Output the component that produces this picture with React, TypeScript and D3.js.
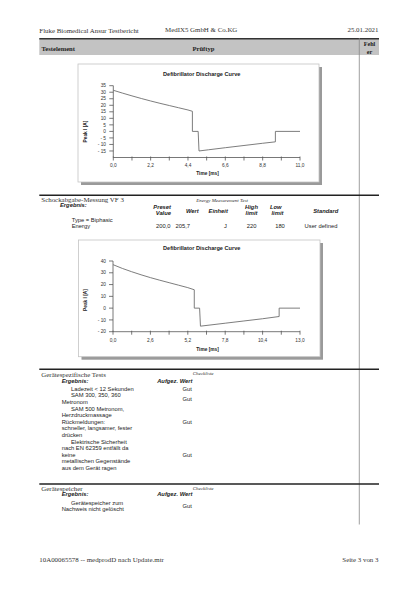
import React from "react";
import * as d3 from "d3";

// ---------- Data ----------
const headerLeft = "Fluke Biomedical Ansur Testbericht";
const headerMid = "MedIX5 GmbH & Co.KG";
const headerDate = "25.01.2021";
const footerLeft = "10A00065578 -- medprodD nach Update.mtr";
const footerRight = "Seite 3 von 3";

// Chart 1 (first row)
const c1Time = [0, 0.55, 1.1, 1.65, 2.2, 2.75, 3.3, 3.85, 4.4, 4.66, 4.66, 5.0, 5.05, 5.6, 6.6, 7.7, 8.8, 9.55, 9.55, 11.0];
const c1Current = [31.5, 29.3, 27.2, 25.2, 23.3, 21.5, 19.8, 18.1, 16.4, 15.4, 0, 0, -15, -14.1, -12.5, -10.8, -9.1, -8.0, 0, 0];
const c1XTicks = [0, 2.2, 4.4, 6.6, 8.8, 11.0];
const c1XMinorStep = 1.1;
const c1YTicks = [35, 30, 25, 20, 15, 10, 5, 0, -5, -10, -15];
const c1YDomain = [-20, 35];
const c1XDomain = [0, 11];

// Chart 2 (Schockabgabe-Messung VF 3)
const c2Time = [0, 0.65, 1.3, 1.95, 2.6, 3.25, 3.9, 4.55, 5.2, 5.65, 5.65, 6.02, 6.08, 7.8, 9.1, 10.4, 11.55, 11.55, 13.0];
const c2Current = [36.9, 33.7, 30.9, 28.3, 25.9, 23.7, 21.6, 19.5, 17.4, 15.6, 0, 0, -15.3, -12.8, -10.9, -9.0, -7.1, 0, 0];
const c2XTicks = [0, 2.6, 5.2, 7.8, 10.4, 13.0];
const c2XMinorStep = 1.3;
const c2YTicks = [40, 30, 20, 10, 0, -10, -20];
const c2YDomain = [-20, 40];
const c2XDomain = [0, 13];

const energyCols = ["Preset|Value", "Wert", "Einheit", "High|limit", "Low|limit", "Standard"];
const energyRow = ["200,0", "205,7", "J", "220", "180", "User defined"];

const deviceItems = [
  { lines: ["Ladezeit < 12 Sekunden"], value: "Gut" },
  { lines: ["SAM 300, 350, 360", "Metronom"], value: "Gut" },
  { lines: ["SAM 500 Metronom,", "Herzdruckmassage", "Rückmeldungen:", "schneller, langsamer, fester", "drücken"], value: "Gut" },
  { lines: ["Elektrische Sicherheit", "nach EN 62359 entfällt da", "keine", "metallischen Gegenstände", "aus dem Gerät ragen"], value: "Gut" },
];
const memoryItems = [{ lines: ["Gerätespeicher zum", "Nachweis nicht gelöscht"], value: "Gut" }];

// ---------- Styles ----------
const SERIF = "'Liberation Serif', 'Times New Roman', serif";
const SANS = "'Liberation Sans', Arial, sans-serif";

type TP = {
  x: number; y: number; s: string; fs?: number; f?: string; w?: any; it?: boolean;
  a?: "start" | "middle" | "end"; c?: string; rot?: number;
};
const T = ({ x, y, s, fs = 5.8, f = SANS, w = "normal", it = false, a = "start", c = "#222", rot }: TP) => (
  <text
    x={x}
    y={y + fs * 0.35}
    fontSize={fs}
    fontFamily={f}
    fontWeight={w}
    fontStyle={it ? "italic" : "normal"}
    textAnchor={a}
    fill={c}
    transform={rot !== undefined ? `rotate(${rot},${x},${y})` : undefined}
  >
    {s}
  </text>
);

const fmt = (v: number) => v.toFixed(1).replace(".", ",");
const fmtY = (v: number) => (v < 0 ? `- ${Math.abs(v)}` : `${v}`);

type ChartProps = {
  box: [number, number, number, number];
  plot: { x0: number; x1: number; yTop: number; yBot: number };
  xDomain: number[]; yDomain: number[];
  xTicks: number[]; minorStep: number; yTicks: number[];
  time: number[]; current: number[];
  titleY: number; tickLabelY: number; xLabelY: number; yLabelCenter: number;
};

const Chart = (p: ChartProps) => {
  const [bx, by, bw, bh] = p.box;
  const xs = d3.scaleLinear().domain(p.xDomain).range([p.plot.x0, p.plot.x1]);
  const ys = d3.scaleLinear().domain(p.yDomain).range([p.plot.yBot, p.plot.yTop]);
  const line = d3
    .line<number>()
    .x((_, i) => xs(p.time[i]))
    .y((d) => ys(d));
  const minor = d3.range(p.xDomain[0], p.xDomain[1] + 1e-6, p.minorStep);
  const axisC = "#555";
  const yb = ys(p.yDomain[0]);
  return (
    <g>
      <rect x={bx + 3} y={by + 3} width={bw} height={bh} fill="#9a9a9a" />
      <rect x={bx} y={by} width={bw} height={bh} fill="#fff" stroke="#c4c4c4" strokeWidth={0.8} />
      <T x={201.7} y={p.titleY} s="Defibrillator Discharge Curve" fs={5.6} w="bold" a="middle" c="#222" />
      <line x1={xs(p.xDomain[0])} x2={xs(p.xDomain[1])} y1={yb} y2={yb} stroke={axisC} strokeWidth={0.8} />
      <line x1={xs(p.xDomain[0])} x2={xs(p.xDomain[0])} y1={yb} y2={ys(p.yDomain[1])} stroke={axisC} strokeWidth={0.8} />
      {minor.map((t, i) => (
        <line key={"mx" + i} x1={xs(t)} x2={xs(t)} y1={yb - 1} y2={yb + 3} stroke={axisC} strokeWidth={0.8} />
      ))}
      {p.xTicks.map((t, i) => (
        <T key={"xl" + i} x={xs(t)} y={p.tickLabelY} s={fmt(t)} fs={4.8} a="middle" c="#333" />
      ))}
      {p.yTicks.map((t, i) => (
        <g key={"y" + i}>
          <line x1={xs(p.xDomain[0]) - 4} x2={xs(p.xDomain[0])} y1={ys(t)} y2={ys(t)} stroke={axisC} strokeWidth={0.8} />
          <T x={106} y={ys(t)} s={fmtY(t)} fs={4.8} a="end" c="#333" />
        </g>
      ))}
      <T x={207.5} y={p.xLabelY} s="Time [ms]" fs={4.8} w="bold" a="middle" c="#222" />
      <T x={85.5} y={p.yLabelCenter} s="Peak I [A]" fs={4.8} w="bold" a="middle" c="#222" rot={-90} />
      <path d={line(p.current) || ""} fill="none" stroke="#6e6e6e" strokeWidth={0.9} />
    </g>
  );
};

const Items = ({ items, startY, step }: { items: { lines: string[]; value: string }[]; startY: number; step: number }) => {
  let k = 0;
  const out: any[] = [];
  items.forEach((it, i) => {
    const first = k;
    it.lines.forEach((ln, j) => {
      out.push(<T key={`l${i}-${j}`} x={j === 0 ? 71 : 61.7} y={startY + k * step} s={ln} />);
      k++;
    });
    const mid = startY + ((first + k - 1) / 2) * step;
    out.push(<T key={`v${i}`} x={191.8} y={mid} s={it.value} a="end" />);
  });
  return <g>{out}</g>;
};

export default function App() {
  const W = 416, H = 589;
  const L = 39.3, R = 379;
  const sepX = 359.3;
  return (
    <svg width={W} height={H} style={{ position: "absolute", left: 0, top: 0, display: "block" }}>
      <rect x={0} y={0} width={W} height={H} fill="#fff" />
      {/* page header */}
      <T x={39.3} y={30.3} s={headerLeft} fs={6.9} f={SERIF} c="#333" />
      <T x={165} y={29.8} s={headerMid} fs={6.9} f={SERIF} c="#333" />
      <T x={378.5} y={29.8} s={headerDate} fs={6.9} f={SERIF} a="end" c="#333" />

      {/* table header */}
      <rect x={L} y={38.8} width={R - L} height={16.2} fill="#c3c3c3" />
      <line x1={L} x2={R} y1={38.8} y2={38.8} stroke="#333" strokeWidth={1.5} />
      <T x={41.5} y={48.2} s="Testelement" fs={6.6} f={SERIF} w="bold" c="#222" />
      <T x={203.5} y={48.2} s="Prüftyp" fs={6.6} f={SERIF} w="bold" a="middle" c="#222" />
      <T x={369.5} y={44.2} s="Fehl" fs={6.2} f={SERIF} w="bold" a="middle" c="#222" />
      <T x={369.5} y={51.4} s="er" fs={6.2} f={SERIF} w="bold" a="middle" c="#222" />
      <line x1={sepX} x2={sepX} y1={38} y2={524.5} stroke="#888" strokeWidth={0.8} />

      {/* row 1 chart */}
      <Chart
        box={[78, 64, 241, 118]}
        plot={{ x0: 113.3, x1: 300, yTop: 85.7, yBot: 157.5 }}
        xDomain={c1XDomain} yDomain={c1YDomain}
        xTicks={c1XTicks} minorStep={c1XMinorStep} yTicks={c1YTicks}
        time={c1Time} current={c1Current}
        titleY={74} tickLabelY={165.8} xLabelY={173.8} yLabelCenter={131.5}
      />

      {/* row 2 */}
      <line x1={L} x2={R} y1={195.3} y2={195.3} stroke="#222" strokeWidth={1.4} />
      <T x={41.3} y={199.8} s="Schockabgabe-Messung VF 3" fs={6.9} f={SERIF} c="#333" />
      <T x={222} y={200} s="Energy Measurement Test" fs={5} f={SERIF} it a="middle" c="#333" />
      <T x={60} y={204.8} s="Ergebnis:" w="bold" it />
      {energyCols.map((c, i) => {
        const xs = [171, 192.3, 218.2, 251.5, 270, 325.8];
        const an: ("start" | "middle" | "end")[] = ["end", "middle", "middle", "middle", "start", "middle"];
        const parts = c.split("|");
        if (parts.length === 1) return <T key={i} x={xs[i]} y={210.5} s={c} w="bold" it a={an[i]} />;
        return (
          <g key={i}>
            <T x={xs[i]} y={206.8} s={parts[0]} w="bold" it a={an[i]} />
            <T x={i === 4 ? 271.5 : xs[i]} y={213.4} s={parts[1]} w="bold" it a={an[i]} />
          </g>
        );
      })}
      <T x={71.7} y={220} s="Type = Biphasic" />
      <T x={71.7} y={226.3} s="Energy" />
      {energyRow.map((v, i) => {
        const xs = [170.6, 190, 226.8, 251.7, 280, 321];
        const an: ("start" | "middle" | "end")[] = ["end", "end", "end", "middle", "middle", "middle"];
        return <T key={i} x={xs[i]} y={226.3} s={v} a={an[i]} />;
      })}

      <Chart
        box={[78.5, 240, 241.5, 116.7]}
        plot={{ x0: 113, x1: 300, yTop: 261, yBot: 331.7 }}
        xDomain={c2XDomain} yDomain={c2YDomain}
        xTicks={c2XTicks} minorStep={c2XMinorStep} yTicks={c2YTicks}
        time={c2Time} current={c2Current}
        titleY={248.3} tickLabelY={340} xLabelY={349.3} yLabelCenter={300}
      />

      {/* row 3 */}
      <line x1={L} x2={R} y1={369.3} y2={369.3} stroke="#222" strokeWidth={1.4} />
      <T x={41.3} y={374.6} s="Gerätespezifische Tests" fs={6.9} f={SERIF} c="#333" />
      <T x={192.7} y={373.2} s="Checkliste" fs={5} f={SERIF} it c="#333" />
      <T x={61.7} y={380.7} s="Ergebnis:" w="bold" it />
      <T x={192.5} y={380.7} s="Aufgez. Wert" w="bold" it a="end" />
      <Items items={deviceItems} startY={388.7} step={6.6} />

      {/* row 4 */}
      <line x1={L} x2={R} y1={484} y2={484} stroke="#222" strokeWidth={1.4} />
      <T x={41.3} y={489} s="Gerätespeicher" fs={6.9} f={SERIF} c="#333" />
      <T x={192.7} y={487.8} s="Checkliste" fs={5} f={SERIF} it c="#333" />
      <T x={61.7} y={494.3} s="Ergebnis:" w="bold" it />
      <T x={192.5} y={494.3} s="Aufgez. Wert" w="bold" it a="end" />
      <Items items={memoryItems} startY={502.7} step={6.6} />

      {/* footer */}
      <T x={39.3} y={560} s={footerLeft} fs={6.9} f={SERIF} c="#333" />
      <T x={378.5} y={560} s={footerRight} fs={6.9} f={SERIF} a="end" c="#333" />
    </svg>
  );
}
